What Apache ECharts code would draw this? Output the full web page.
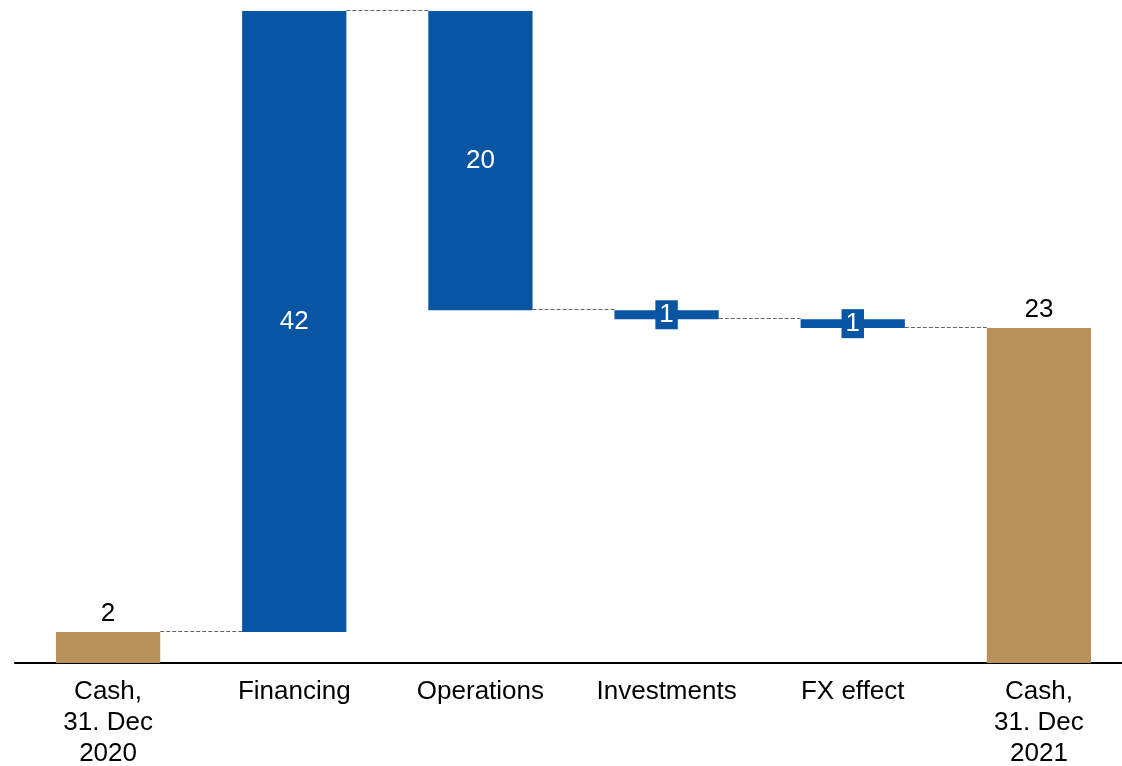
<!DOCTYPE html>
<html>
<head>
<meta charset="utf-8">
<script src="https://cdn.jsdelivr.net/npm/echarts@6/dist/echarts.min.js"></script>
<style>
  html, body { margin: 0; padding: 0; background: #fff; }
  #chart { width: 1122px; height: 766px; }
</style>
</head>
<body>
<div id="chart"></div>
<script>
// Cash bridge, EUR m (values before rounding)
const categories = ['Cash,\n31. Dec\n2020', 'Financing', 'Operations', 'Investments', 'FX effect', 'Cash,\n31. Dec\n2021'];
const openingCash = 2.1;
const movements = [41.9, -20.2, -0.6, -0.6];
const kinds = ['total', 'delta', 'delta', 'delta', 'delta', 'total'];

const BLUE = '#0755A3';
const GOLD = '#B79157';
const FONT = '"Liberation Sans", Arial, sans-serif';
const BAR_RATIO = 0.56;

// Build the floating bars: invisible base + visible segment
const levels = [openingCash];
movements.forEach(m => levels.push(levels[levels.length - 1] + m));
const closingCash = levels[levels.length - 1];

const baseData = [0];
const barData = [openingCash];
movements.forEach((m, i) => {
  const before = levels[i], after = levels[i + 1];
  baseData.push(Math.min(before, after));
  barData.push(Math.abs(m));
});
baseData.push(0);
barData.push(closingCash);

// Connector levels between neighbouring bars
const connectors = levels.map((lvl, i) => [i, lvl]);

const option = {
  animation: false,
  grid: { left: 15, top: 11, width: 1117, bottom: 103, outerBoundsMode: 'none', containLabel: false },
  xAxis: {
    type: 'category',
    data: categories,
    axisTick: { show: false },
    axisLine: { lineStyle: { color: '#000', width: 2 } },
    axisLabel: {
      interval: 0, color: '#000', fontFamily: FONT,
      fontSize: 26, lineHeight: 31, margin: 13
    }
  },
  yAxis: { type: 'value', min: 0, max: 44, show: false, splitLine: { show: false } },
  series: [
    {
      type: 'bar', stack: 'w', silent: true,
      barCategoryGap: '44%',
      itemStyle: { color: 'transparent' },
      data: baseData
    },
    {
      type: 'bar', stack: 'w',
      barCategoryGap: '44%',
      data: barData.map((v, i) => {
        const total = kinds[i] === 'total';
        const small = !total && v < 2;
        return {
          value: v,
          itemStyle: { color: total ? GOLD : BLUE },
          label: total
            ? { position: 'top', color: '#000', distance: 5 }
            : small
              ? { position: 'inside', color: '#fff', backgroundColor: BLUE, padding: [2, 4, 1, 4], lineHeight: 26 }
              : { position: 'inside', color: '#fff' }
        };
      }),
      label: {
        show: true, fontFamily: FONT, fontSize: 26,
        formatter: p => String(Math.round(p.value))
      }
    },
    {
      type: 'custom', silent: true, z: 1,
      data: connectors,
      renderItem: (params, api) => {
        const i = api.value(0), lvl = api.value(1);
        const p0 = api.coord([i, lvl]);
        const p1 = api.coord([i + 1, lvl]);
        const half = api.size([1, 0])[0] * BAR_RATIO / 2;
        const y = Math.round(p0[1]) - 0.5;
        return {
          type: 'line',
          shape: { x1: p0[0] + half, y1: y, x2: p1[0] - half, y2: y },
          style: { stroke: '#666', lineWidth: 1, lineDash: [4, 2] }
        };
      }
    }
  ]
};

echarts.init(document.getElementById('chart')).setOption(option);
</script>
</body>
</html>
